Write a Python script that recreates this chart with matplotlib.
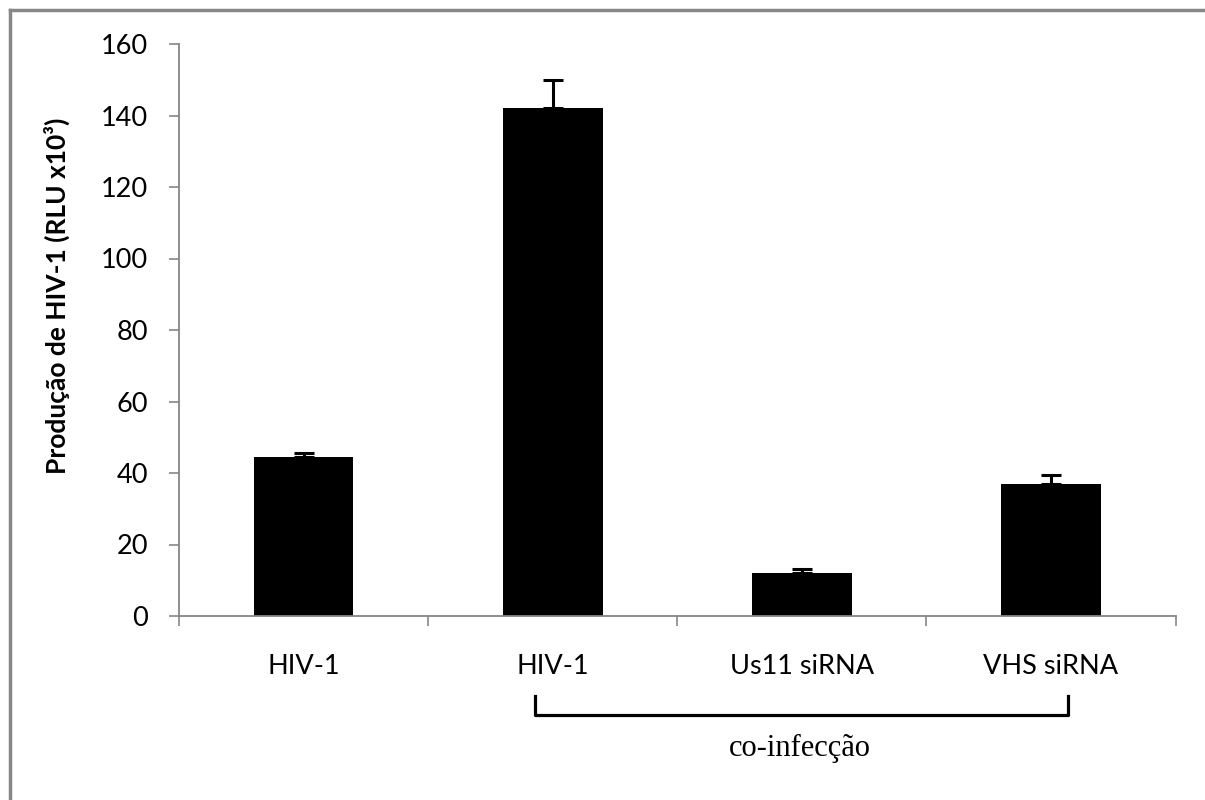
import matplotlib
matplotlib.use('Agg')
import matplotlib.pyplot as plt
from matplotlib.lines import Line2D
import numpy as np

categories = ['HIV-1', 'HIV-1', 'Us11 siRNA', 'VHS siRNA']
values = [44.5, 142, 12, 37]
errors = [1, 8, 1.1, 2.5]
y_ticks = [0, 20, 40, 60, 80, 100, 120, 140, 160]
y_label = 'Produção de HIV-1 (RLU x10³)'
group_label = 'co-infecção'

plt.rcParams['font.family'] = ['Lato', 'DejaVu Sans']
grey = '#868686'

fig = plt.figure(figsize=(12.05, 8), dpi=100)
ax = fig.add_axes([179 / 1205, 1 - 616 / 800, (1175.6 - 179) / 1205, (616 - 44) / 800])

x = np.arange(len(categories))
ax.bar(x, values, width=0.4, color='black', zorder=2)
ax.errorbar(x, values, yerr=[np.zeros(len(errors)), errors], fmt='none',
            ecolor='black', elinewidth=2.2, capsize=7.5, capthick=2.2, zorder=3)

ax.set_xlim(-0.5, 3.5)
ax.set_ylim(0, 160)
ax.set_yticks(y_ticks)
ax.set_xticks(np.arange(-0.5, 4, 1.0))
ax.set_xticklabels([])
ax.set_xticks(x, minor=True)
ax.set_xticklabels(categories, minor=True)
ax.tick_params(axis='x', which='minor', length=0, pad=27, labelsize=19.5)
ax.tick_params(axis='x', which='major', length=7.2, color=grey, width=1.2)
ax.tick_params(axis='y', length=7.2, color=grey, width=1.2, pad=15, labelsize=19.5)

for side in ['top', 'right']:
    ax.spines[side].set_visible(False)
for side in ['left', 'bottom']:
    ax.spines[side].set_color(grey)
    ax.spines[side].set_linewidth(1.3)

fig.text(57 / 1205, 1 - 296 / 800, y_label, rotation=90, ha='center', va='center',
         fontsize=19, fontweight='bold')

# bracket under the co-infection groups
trans = ax.get_xaxis_transform()
y_top = (616 - 696) / (616 - 44)
y_bot = (616 - 715) / (616 - 44)
x0, x1 = 0.93, 3.07
ax.plot([x0, x0, x1, x1], [y_top, y_bot, y_bot, y_top], color='black',
        lw=2.3, transform=trans, clip_on=False)
ax.text((x0 + x1) / 2 - 0.01, (616 - 748) / (616 - 44), group_label, transform=trans,
        ha='center', va='center', fontsize=22, family=['Liberation Serif', 'DejaVu Serif'])

# grey frame on the top and left edges
fig.add_artist(Line2D([9.5 / 1205, 9.5 / 1205], [0, 1 - 9.5 / 800], color='#888888', lw=2.5))
fig.add_artist(Line2D([9.5 / 1205, 1], [1 - 9.5 / 800, 1 - 9.5 / 800], color='#888888', lw=2.5))

fig.savefig('out.png', dpi=100)
